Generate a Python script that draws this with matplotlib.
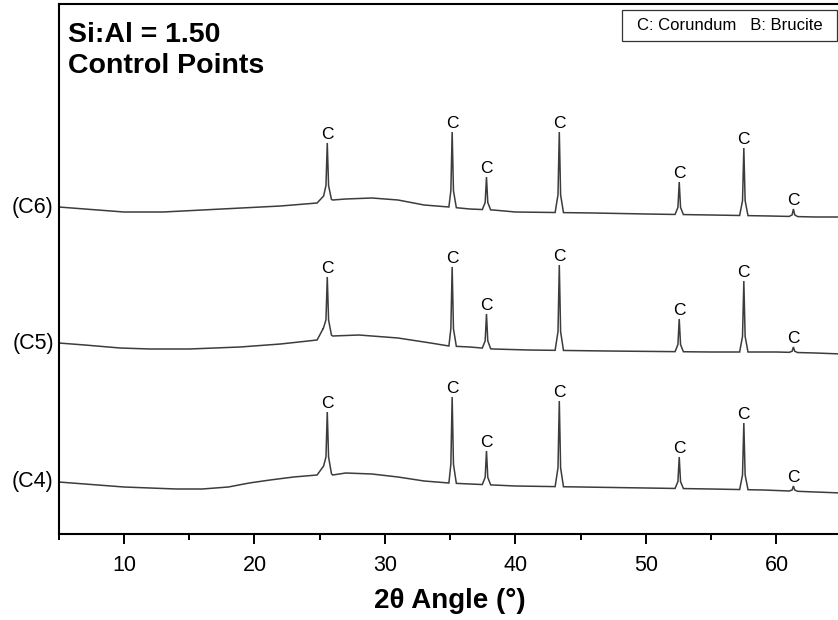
import numpy as np
import matplotlib
matplotlib.use("Agg")
import matplotlib.pyplot as plt
from matplotlib.patches import Rectangle
from matplotlib.ticker import MultipleLocator

plt.rcParams['font.family'] = ['Liberation Sans', 'DejaVu Sans']

# ---------------- data ----------------
sample_names = ["(C4)", "(C5)", "(C6)"]

# broad background of each pattern (2theta, intensity, arbitrary offset units)
base_x_c4 = [5, 7, 10, 14, 16, 18, 19.6, 21.2, 23, 24.8, 25.3, 26.0, 27, 29, 31, 33, 34.9,
             36.5, 38.3, 40, 45, 50, 55, 59, 63, 65]
base_y_c4 = [52, 50, 47, 45, 45, 47, 51, 54, 57, 59, 68, 59, 61, 60, 57, 53, 51,
             50, 49, 48, 47, 46, 45, 44, 42, 41]

base_x_c5 = [5, 7, 9.7, 12, 15, 18.9, 22, 24.8, 25.25, 26.0, 28, 31, 33.5, 34.9,
             36.5, 38.3, 41, 47, 55, 60, 63, 65]
base_y_c5 = [191, 189, 186, 185, 185, 187, 190, 194, 205, 198, 199, 196, 191, 188,
             187, 185, 184, 183, 182, 182, 181, 180]

base_x_c6 = [5, 7, 10, 13, 16, 19, 22, 24.8, 25.3, 26.0, 27, 29, 31, 33, 34.9,
             36.5, 38.3, 40, 46, 50, 55, 59.5, 63, 65]
base_y_c6 = [327, 325, 322, 322, 324, 326, 328, 331, 338, 334, 335, 336, 334, 329, 327,
             325, 324, 322, 321, 320, 319, 318, 317, 317]

# corundum reflections: position and peak-top intensity
peak_pos = [25.58, 35.15, 37.78, 43.36, 52.55, 57.50, 61.30]
peak_top_c4 = [122, 137, 83, 133, 77, 111, 48]
peak_top_c5 = [257, 267, 220, 269, 215, 253, 187]
peak_top_c6 = [391, 402, 357, 402, 352, 386, 325]
peak_label = "C"

legend_text = "C: Corundum   B: Brucite"
title_lines = ["Si:Al = 1.50", "Control Points"]
x_ticks = [10, 20, 30, 40, 50, 60]
x_label = "2\u03b8 Angle (\u00b0)"

# ---------------- drawing ----------------
W, H = 838, 620
fig = plt.figure(figsize=(W / 100, H / 100), dpi=100)
ax = fig.add_axes([58.7 / W, 86 / H, 783 / W, 530 / H])

HALF_FOOT = 0.32   # peak base half width (deg)
HALF_FLANK = 0.10  # flank point offset (deg)
FLANK_FRAC = 0.22


def build_trace(bx, by, tops):
    xs = list(bx)
    for p in peak_pos:
        xs += [p - HALF_FOOT, p - HALF_FLANK, p, p + HALF_FLANK, p + HALF_FOOT]
    xs = np.array(sorted(set(xs)))
    ys = np.interp(xs, bx, by)
    for p, t in zip(peak_pos, tops):
        b = np.interp(p, bx, by)
        ys[np.isclose(xs, p)] = t
        for off in (-HALF_FLANK, HALF_FLANK):
            ys[np.isclose(xs, p + off)] = b + FLANK_FRAC * (t - b)
        for off in (-HALF_FOOT, HALF_FOOT):
            ys[np.isclose(xs, p + off)] = np.interp(p + off, bx, by)
    return xs, ys


traces = [(base_x_c4, base_y_c4, peak_top_c4),
          (base_x_c5, base_y_c5, peak_top_c5),
          (base_x_c6, base_y_c6, peak_top_c6)]

line_color = "#3c3c3c"
for name, (bx, by, tops) in zip(sample_names, traces):
    xs, ys = build_trace(bx, by, tops)
    ax.plot(xs, ys, color=line_color, lw=1.1, solid_joinstyle="miter")
    for p, t in zip(peak_pos, tops):
        ax.annotate(peak_label, xy=(p, t), xytext=(0, 0.5), textcoords="offset points",
                    ha="center", va="bottom", fontsize=12.5, color="black")
    ax.annotate(name, xy=(5, by[0]), xytext=(-3.5, 0), textcoords="offset points",
                ha="right", va="center", fontsize=15.5, color="black",
                annotation_clip=False)

ax.set_xlim(5, 65)
ax.set_ylim(0, 530)
ax.set_yticks([])
ax.set_xticks(x_ticks)
ax.xaxis.set_minor_locator(MultipleLocator(5))
ax.tick_params(axis="x", which="major", direction="out", length=7.5, width=1.4,
               labelsize=15.5, pad=7.5)
ax.tick_params(axis="x", which="minor", direction="out", length=4, width=1.4)
for s in ax.spines.values():
    s.set_linewidth(1.5)
ax.set_xlabel(x_label, fontsize=20, fontweight="bold", labelpad=9)

# title lines (upper left)
fig.text(68 / W, 1 - 42 / H, title_lines[0], fontsize=20.5, fontweight="bold",
         ha="left", va="baseline")
fig.text(68 / W, 1 - 73 / H, title_lines[1], fontsize=20.5, fontweight="bold",
         ha="left", va="baseline")

# legend box (upper right)
fig.patches.append(Rectangle((622 / W, 1 - 41 / H), 215 / W, 31 / H,
                             transform=fig.transFigure, fill=False,
                             lw=0.9, ec="#333333"))
fig.text(729.5 / W, 1 - 25.5 / H, legend_text, fontsize=12, ha="center", va="center")

fig.savefig("out.png", dpi=100)
